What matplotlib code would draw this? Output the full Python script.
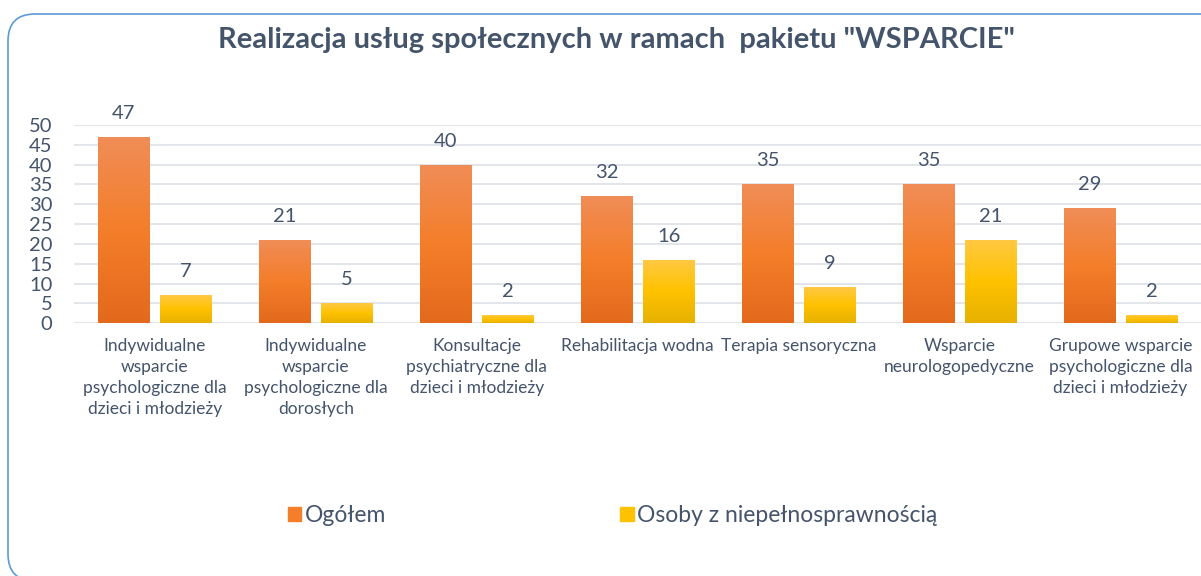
import numpy as np
import matplotlib
matplotlib.use("Agg")
import matplotlib.pyplot as plt
from matplotlib.colors import LinearSegmentedColormap
from matplotlib.patches import FancyBboxPatch, Patch

# Data
categories = [
    "Indywidualne\nwsparcie\npsychologiczne dla\ndzieci i młodzieży",
    "Indywidualne\nwsparcie\npsychologiczne dla\ndorosłych",
    "Konsultacje\npsychiatryczne dla\ndzieci i młodzieży",
    "Rehabilitacja wodna",
    "Terapia sensoryczna",
    "Wsparcie\nneurologopedyczne",
    "Grupowe wsparcie\npsychologiczne dla\ndzieci i młodzieży",
]
ogolem = [47, 21, 40, 32, 35, 35, 29]
niepelnosprawni = [7, 5, 2, 16, 9, 21, 2]
series_names = ["Ogółem", "Osoby z niepełnosprawnością"]

text_color = "#44546A"
grid_color = "#DDE1E7"
plt.rcParams["font.family"] = ["Lato", "DejaVu Sans"]

orange_cmap = LinearSegmentedColormap.from_list("o", ["#E3691C", "#F47E2A", "#F08D57"])
yellow_cmap = LinearSegmentedColormap.from_list("y", ["#E6B100", "#FFC200", "#FFC944"])

fig = plt.figure(figsize=(12.01, 5.76), dpi=100)
ax = fig.add_axes([0.062, 0.439, 0.938, 0.344])

x = np.arange(len(categories))
width = 0.317
offset = 0.193
bars1 = ax.bar(x - offset, ogolem, width, color="#F47E2A", zorder=2)
bars2 = ax.bar(x + offset, niepelnosprawni, width, color="#FFC200", zorder=2)

# gradient fill for each bar
grad = np.linspace(0, 1, 256).reshape(-1, 1)
for bars, cmap in [(bars1, orange_cmap), (bars2, yellow_cmap)]:
    for b in bars:
        x0, w, h = b.get_x(), b.get_width(), b.get_height()
        im = ax.imshow(grad, extent=[x0, x0 + w, 0, h], origin="lower",
                       aspect="auto", cmap=cmap, zorder=3)
        im.set_clip_path(b)
        ax.annotate(str(int(h)), (x0 + w / 2, h), xytext=(0, 13),
                    textcoords="offset points", ha="center", va="baseline",
                    fontsize=14.5, color=text_color)

ax.set_xlim(-0.5, len(categories) - 0.5)
ax.set_ylim(0, 50)
ax.set_yticks(range(0, 51, 5))
ax.set_xticks(x)
ax.set_xticklabels(categories, fontsize=12.5, color=text_color, linespacing=1.37)
ax.tick_params(axis="y", labelsize=14.5, labelcolor=text_color, length=0, pad=16)
ax.tick_params(axis="x", length=0, pad=11)
ax.grid(axis="y", color=grid_color, linewidth=1.2, zorder=0)
ax.set_axisbelow(True)
for s in ax.spines.values():
    s.set_visible(False)

fig.text(0.513, 0.93, 'Realizacja usług społecznych w ramach  pakietu "WSPARCIE"',
         ha="center", va="center", fontsize=21, fontweight="bold", color=text_color)

handles = [Patch(color="#F47E2A"), Patch(color="#FFC200")]
fig.legend(handles, series_names, ncol=2, loc="center", bbox_to_anchor=(0.51, 0.105),
           frameon=False, fontsize=16.5, handlelength=0.6, handleheight=0.6,
           handletextpad=0.15, columnspacing=10.2, labelcolor=text_color)

# rounded border around the chart
border = FancyBboxPatch((0.08, -0.05), 12.3, 5.67, boxstyle="round,pad=0,rounding_size=0.27",
                        transform=fig.dpi_scale_trans, facecolor="none",
                        edgecolor="#5B9BD5", linewidth=1.2)
fig.patches.append(border)

fig.savefig("out.png", dpi=100)
